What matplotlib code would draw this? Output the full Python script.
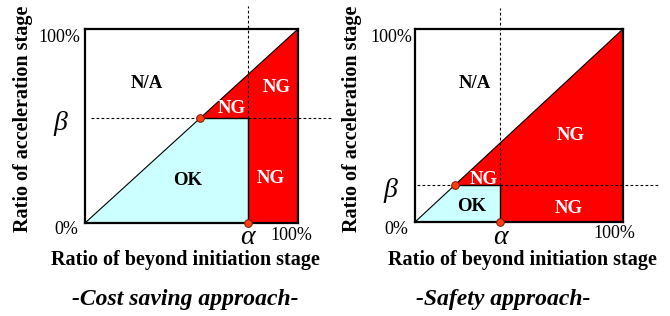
"""Two-panel OK/NG region diagram: cost saving vs safety approach."""

import matplotlib.pyplot as plt

# panel data (fractions of 100%)
titles = ["-Cost saving approach-", "-Safety approach-"]
alphas = [0.765, 0.41]
betas = [0.54, 0.19]

# label positions inside each panel (x, y in axis fractions)
na_pos = [(0.29, 0.72), (0.29, 0.72)]
ok_pos = [(0.48, 0.22), (0.27, 0.08)]
ng_small_pos = [(0.69, 0.59), (0.33, 0.22)]
ng_upper_pos = [(0.90, 0.70), (0.75, 0.45)]
ng_lower_pos = [(0.87, 0.23), (0.74, 0.07)]

# axes rectangles in figure fractions
rects = [
    [85 / 670, 93 / 316, 213 / 670, 194 / 316],
    [415 / 670, 94 / 316, 208 / 670, 193 / 316],
]

# dashed guide extents (beyond the box)
vline_top = [1.12, 1.11]
hline_left = [0.03, 0.01]
hline_right = [1.165, 1.18]

# tick text offsets in pixels
tick_offsets = [
    {"top": (-5, -8), "zero": (-7, -7), "right": (-7, -12), "alpha": (0, -15), "beta": (-25, -5)},
    {"top": (-3, -8), "zero": (-7, -8), "right": (-9, -11), "alpha": (0, -15), "beta": (-25, -5)},
]

xlabel_x = [185 / 670, 522 / 670]
ylabel_x = [23 / 670, 352 / 670]
title_x = [185 / 670, 503 / 670]

CYAN = "#ccffff"
RED = "#ff0000"
DOT = "#ff4010"
SERIF = "Liberation Serif"


def draw_panel(fig, i):
    a, b = alphas[i], betas[i]
    ax = fig.add_axes(rects[i])
    ax.set_xlim(0, 1)
    ax.set_ylim(0, 1)
    ax.set_xticks([])
    ax.set_yticks([])
    for sp in ax.spines.values():
        sp.set_linewidth(1.6)
        sp.set_zorder(6)

    ax.fill([0, a, a, b], [0, 0, b, b], color=CYAN, lw=0, zorder=1)
    ax.fill([b, 1, 1, a, a], [b, 1, 0, 0, b], color=RED, lw=0, zorder=1)

    ax.plot([0, 1], [0, 1], color="black", lw=0.8, zorder=3)
    ax.plot([b, a, a], [b, b, 0], color="black", lw=1.0, zorder=3)

    dash = dict(color="black", lw=0.8, ls=(0, (2.5, 2)), clip_on=False, zorder=4)
    ax.plot([a, a], [b, vline_top[i]], **dash)
    ax.plot([hline_left[i], b], [b, b], **dash)
    ax.plot([a, hline_right[i]], [b, b], **dash)

    ax.plot([b, a], [b, 0], ls="none", marker="o", ms=5.5, mfc=DOT,
            mec="#801000", mew=0.7, clip_on=False, zorder=7)

    bold = dict(family=SERIF, weight="bold", fontsize=13.5, ha="center", va="center", zorder=5)
    ax.text(*na_pos[i], "N/A", color="black", **bold)
    ax.text(*ok_pos[i], "OK", color="black", **bold)
    ax.text(*ng_small_pos[i], "NG", color="white", **bold)
    ax.text(*ng_upper_pos[i], "NG", color="white", **bold)
    ax.text(*ng_lower_pos[i], "NG", color="white", **bold)

    off = tick_offsets[i]
    tick = dict(textcoords="offset pixels", family=SERIF, fontsize=13,
                va="center", annotation_clip=False)
    ax.annotate("100%", (0, 1), xytext=off["top"], ha="right", **tick)
    ax.annotate("0%", (0, 0), xytext=off["zero"], ha="right", **tick)
    ax.annotate("100%", (1, 0), xytext=off["right"], ha="center", **tick)
    greek = dict(tick, fontsize=20, style="italic")
    ax.annotate("α", (a, 0), xytext=off["alpha"], ha="center", **greek)
    ax.annotate("β", (0, b), xytext=off["beta"], ha="center", **greek)

    fig.text(xlabel_x[i], 1 - 260 / 316, "Ratio of beyond initiation stage",
             family=SERIF, weight="bold", fontsize=14.5, ha="center", va="center")
    fig.text(ylabel_x[i], 1 - 119 / 316, "Ratio of acceleration stage",
             family=SERIF, weight="bold", fontsize=14.5, ha="center", va="center",
             rotation=90)
    fig.text(title_x[i], 1 - 300 / 316, titles[i], family=SERIF, weight="bold",
             style="italic", fontsize=17, ha="center", va="center")


def main():
    fig = plt.figure(figsize=(6.7, 3.16), dpi=100)
    fig.patch.set_facecolor("white")
    for i in range(2):
        draw_panel(fig, i)
    fig.savefig("out.png", dpi=100)
    plt.close(fig)


if __name__ == "__main__":
    main()
